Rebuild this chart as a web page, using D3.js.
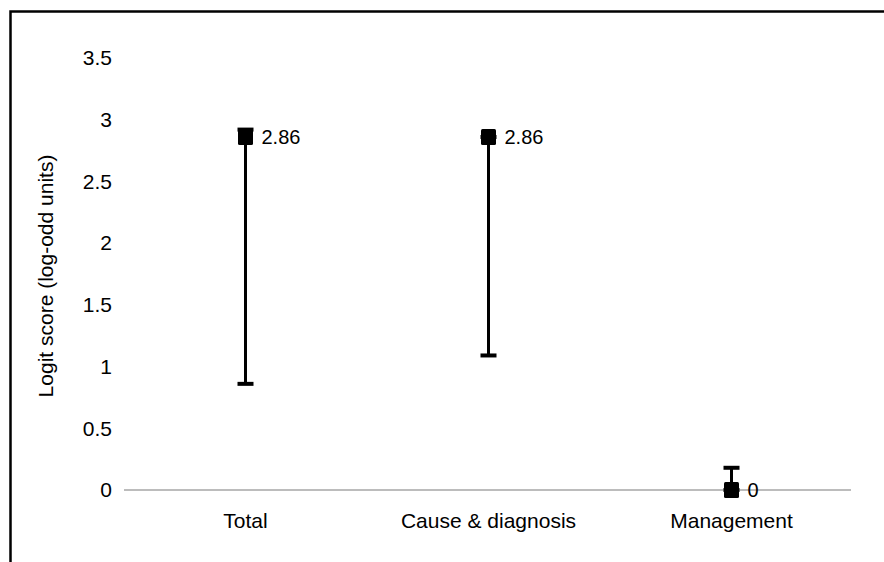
<!DOCTYPE html>
<html>
<head>
<meta charset="utf-8">
<script src="https://cdn.jsdelivr.net/npm/d3@7.9.0/dist/d3.min.js"></script>
<style>
  body { margin: 0; background: #fff; }
  text { font-family: "Liberation Sans", Arial, sans-serif; fill: #000; }
</style>
</head>
<body>
<svg id="chart" width="884" height="562"></svg>
<script>
// data
const categories = ['Total', 'Cause & diagnosis', 'Management'];
const scores = [2.86, 2.86, 0];
const lower = [0.86, 1.09, 0];
const upper = [2.92, 2.86, 0.18];
const scoreLabels = ['2.86', '2.86', '0'];
const yTicks = [0, 0.5, 1, 1.5, 2, 2.5, 3, 3.5];

const svg = d3.select('#chart');

// outer frame (open at right and bottom)
svg.append('path')
  .attr('d', 'M10.5,562 L10.5,11.5 L884,11.5')
  .attr('fill', 'none')
  .attr('stroke', '#000')
  .attr('stroke-width', 2.5);

let x = d3.scaleBand().domain(categories).range([124, 853]);
let y = d3.scaleLinear().domain([0, 3.5]).range([490, 58]);

// baseline
svg.append('line')
  .attr('x1', 124).attr('x2', 851)
  .attr('y1', y(0)).attr('y2', y(0))
  .attr('stroke', '#a6a6a6')
  .attr('stroke-width', 1.5);

// y tick labels
let yAxis = svg.append('g');
yTicks.forEach((t) => {
  yAxis.append('text')
    .attr('x', 112)
    .attr('y', y(t))
    .attr('dy', '0.35em')
    .attr('text-anchor', 'end')
    .attr('font-size', 21)
    .text(t);
});

// y title
svg.append('text')
  .attr('transform', `translate(53,${(y(0) + y(3.5)) / 2 + 2}) rotate(-90)`)
  .attr('text-anchor', 'middle')
  .attr('font-size', 21)
  .text('Logit score (log-odd units)');

// category labels
categories.forEach((c) => {
  svg.append('text')
    .attr('x', x(c) + x.bandwidth() / 2)
    .attr('y', 528)
    .attr('text-anchor', 'middle')
    .attr('font-size', 21)
    .text(c);
});

// error bars, markers, labels
categories.forEach((c, i) => {
  let cx = x(c) + x.bandwidth() / 2;
  let g = svg.append('g');
  g.append('line')
    .attr('x1', cx).attr('x2', cx)
    .attr('y1', y(lower[i])).attr('y2', y(upper[i]))
    .attr('stroke', '#000').attr('stroke-width', 3);
  [lower[i], upper[i]].forEach((v) => {
    g.append('line')
      .attr('x1', cx - 8).attr('x2', cx + 8)
      .attr('y1', y(v)).attr('y2', y(v))
      .attr('stroke', '#000').attr('stroke-width', 4);
  });
  g.append('rect')
    .attr('x', cx - 7.5).attr('y', y(scores[i]) - 8)
    .attr('width', 15).attr('height', 16)
    .attr('rx', 1.5)
    .attr('fill', '#000');
  g.append('text')
    .attr('x', cx + 16)
    .attr('y', y(scores[i]))
    .attr('dy', '0.36em')
    .attr('font-size', 20)
    .text(scoreLabels[i]);
});
</script>
</body>
</html>
